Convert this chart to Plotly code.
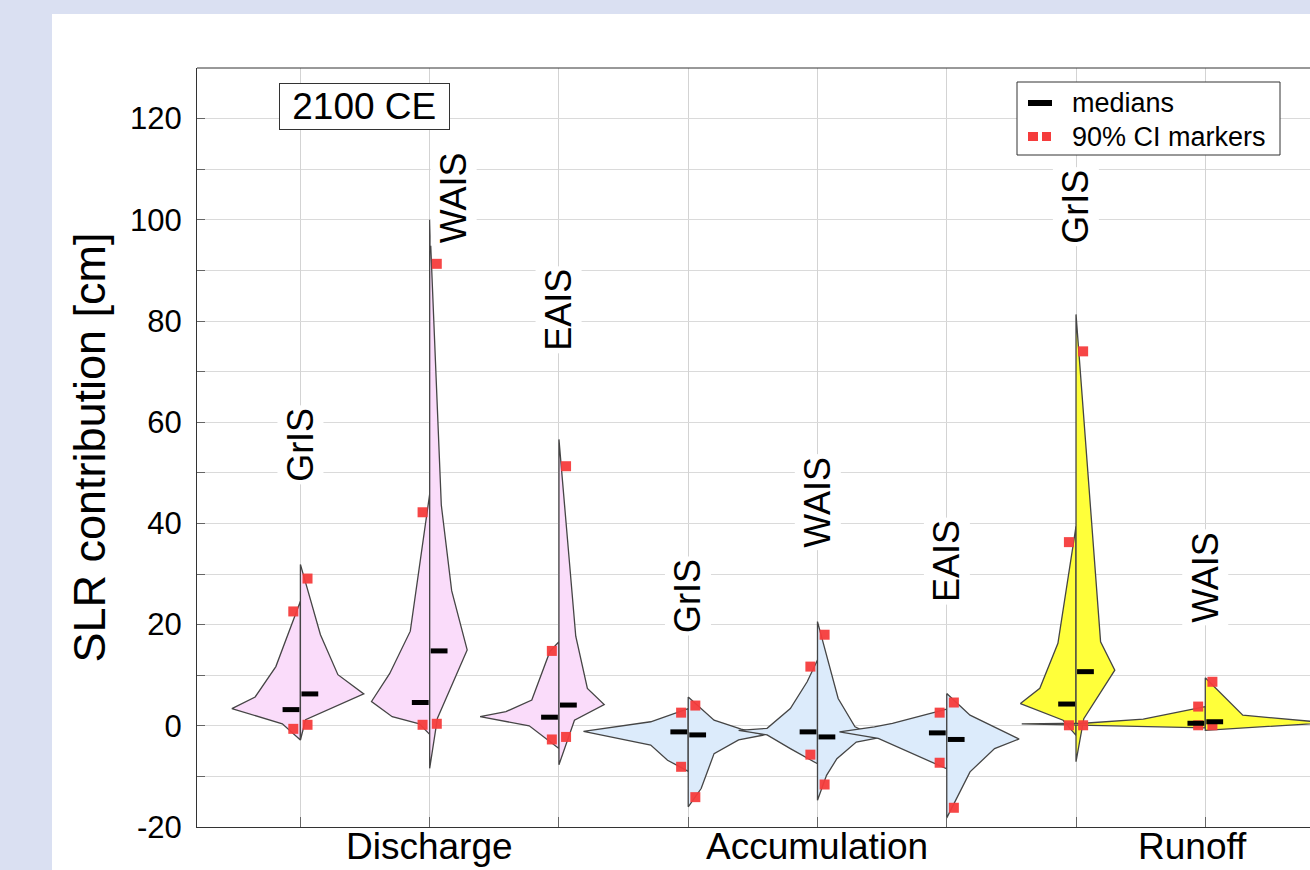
import plotly.graph_objects as go

# ---------------- data ----------------
processes = ["Discharge", "Accumulation", "Runoff"]
process_pos = [2, 5, 7.9]
sheets = ["GrIS", "WAIS", "EAIS", "GrIS", "WAIS", "EAIS", "GrIS", "WAIS"]
sheet_process = [0, 0, 0, 1, 1, 1, 2, 2]
slots = [1, 2, 3, 4, 5, 6, 7, 8]

# half-violin profiles: values [cm] (top -> bottom) and half-widths (slot units)
left_y = [
    [24.6, 11.7, 5.7, 3.4, 0.4, -2.8],
    [45.8, 18.7, 10.3, 4.8, 1.8, 0.4, -1.7],
    [16.6, 14.7, 5.1, 2.8, 1.8, 0.0, -4.5],
    [3.4, 0.8, -1.1, -3.8, -6.8, -9.0],
    [13.0, 8.7, 3.4, -0.5, -0.9, -1.8, -4.5, -7.5],
    [3.3, 0.5, -0.2, -1.2, -2.5, -8.5],
    [39.4, 16.3, 7.4, 4.4, 1.1, -1.9],
    [3.8, 1.3, 0.5, 0.4, -0.4],
]
left_w = [
    [0, 0.19, 0.35, 0.53, 0.14, 0],
    [0, 0.15, 0.31, 0.45, 0.29, 0.08, 0],
    [0, 0.07, 0.21, 0.41, 0.61, 0.23, 0],
    [0, 0.29, 0.81, 0.29, 0.16, 0],
    [0, 0.08, 0.21, 0.39, 0.61, 0.39, 0.21, 0],
    [0, 0.42, 0.56, 0.83, 0.53, 0],
    [0, 0.14, 0.28, 0.43, 0.10, 0],
    [0, 0.48, 0.94, 1.42, 0],
]
right_y = [
    [31.9, 18.0, 10.1, 6.3, 1.2, -2.8],
    [100.0, 43.6, 26.7, 15.0, 1.5, -8.4],
    [56.6, 17.7, 7.4, 4.2, 1.1, -7.7],
    [5.7, 1.1, -0.65, -1.8, -2.8, -5.5, -12.4, -16.0],
    [20.6, 5.4, -0.2, -2.4, -3.2, -6.5, -9.8, -14.7],
    [6.4, 2.1, -2.6, -4.5, -9.1, -18.2],
    [81.3, 16.6, 11.0, 1.4, -7.1],
    [9.5, 2.1, 0.9, 0.7, -0.9],
]
right_w = [
    [0, 0.155, 0.29, 0.49, 0.04, 0],
    [0, 0.09, 0.17, 0.29, 0.06, 0],
    [0, 0.13, 0.22, 0.35, 0.12, 0],
    [0, 0.20, 0.41, 0.59, 0.39, 0.20, 0.10, 0],
    [0, 0.16, 0.29, 0.47, 0.30, 0.15, 0.07, 0],
    [0, 0.18, 0.56, 0.37, 0.18, 0],
    [0, 0.19, 0.30, 0.06, 0],
    [0, 0.29, 0.81, 1.0, 0],
]

median_left = [3.2, 4.6, 1.7, -1.2, -1.2, -1.4, 4.3, 0.5]
median_right = [6.3, 14.8, 4.1, -1.8, -2.2, -2.7, 10.7, 0.8]
ci_left_low = [-0.6, 0.2, -2.7, -8.1, -5.7, -7.3, 0.1, 0.1]
ci_left_high = [22.6, 42.2, 14.8, 2.6, 11.7, 2.6, 36.3, 3.8]
ci_right_low = [0.2, 0.4, -2.2, -14.1, -11.6, -16.2, 0.1, 0.1]
ci_right_high = [29.1, 91.3, 51.3, 4.0, 18.0, 4.6, 74.0, 8.7]

label_y = [55.6, 104.4, 82.2, 25.7, 44.2, 32.5, 102.6, 29.3]

y_ticks = [-20, 0, 20, 40, 60, 80, 100, 120]
y_tick_labels = ["-20", "0", "20", "40", "60", "80", "100", "120"]

# ---------------- style ----------------
FONT = "Liberation Sans, Arial, Helvetica, sans-serif"
fills = ["#fadcfa", "#dcebfb", "#ffff3a"]
outline = "#454545"
red = "#f53c3c"
med_dx = 0.073
ci_dx = 0.055

# plot area geometry (pixels) for layout helpers
L, R, T, B = 197, 1310, 68, 827
W_px, H_px = R - L, B - T


def px_x(px):
    return (px - L) / W_px


def px_y(py):
    return (B - py) / H_px


fig = go.Figure()

for i, c in enumerate(slots):
    col = fills[sheet_process[i]]
    xs = [c - w for w in left_w[i]] + [c - left_w[i][0]]
    ys = list(left_y[i]) + [left_y[i][0]]
    fig.add_trace(go.Scatter(x=xs, y=ys, mode="lines", fill="toself",
                             fillcolor=col, line=dict(color=outline, width=1.3),
                             hoverinfo="skip", showlegend=False))
    xs = [c + w for w in right_w[i]] + [c + right_w[i][0]]
    ys = list(right_y[i]) + [right_y[i][0]]
    fig.add_trace(go.Scatter(x=xs, y=ys, mode="lines", fill="toself",
                             fillcolor=col, line=dict(color=outline, width=1.3),
                             hoverinfo="skip", showlegend=False))

# 90% CI markers
ci_x = ([c - ci_dx for c in slots] * 2) + ([c + ci_dx for c in slots] * 2)
ci_y = ci_left_low + ci_left_high + ci_right_low + ci_right_high
fig.add_trace(go.Scatter(x=ci_x, y=ci_y, mode="markers", name="90% CI markers",
                         marker=dict(symbol="square", size=10, color=red,
                                     opacity=0.95, line=dict(width=0)),
                         cliponaxis=False, showlegend=False))

# medians
med_x = [c - med_dx for c in slots] + [c + med_dx for c in slots]
med_y = median_left + median_right
fig.add_trace(go.Scatter(x=med_x, y=med_y, mode="markers", name="medians",
                         marker=dict(symbol="line-ew", size=12,
                                     line=dict(color="black", width=5)),
                         showlegend=False))

# ice-sheet labels
for i, c in enumerate(slots):
    fig.add_annotation(x=c, y=label_y[i], text=sheets[i], textangle=-90,
                       showarrow=False, bgcolor="white", borderpad=2,
                       xshift=24 if i == 1 else 0,
                       font=dict(family=FONT, size=36, color="black"))

# process (category) labels under the axis
for name, pos in zip(processes, process_pos):
    fig.add_annotation(x=pos, xref="x", yref="paper", y=px_y(846),
                       yanchor="middle", text=name, showarrow=False,
                       font=dict(family=FONT, size=37, color="black"))

# 2100 CE box
fig.add_annotation(x=1.495, y=122.4, text="&nbsp;2100 CE&nbsp;", showarrow=False,
                   bgcolor="white", bordercolor="#333", borderwidth=1,
                   borderpad=2, font=dict(family=FONT, size=37, color="black"))

# white page panel
fig.add_shape(type="rect", xref="paper", yref="paper",
              x0=px_x(52), x1=px_x(1330), y0=px_y(900), y1=px_y(14),
              fillcolor="white", line_width=0, layer="below")

# top frame line
fig.add_shape(type="line", xref="paper", yref="paper",
              x0=0, x1=1.05, y0=1, y1=1, line=dict(color="#333", width=1))

# custom legend
fig.add_shape(type="rect", xref="paper", yref="paper",
              x0=px_x(1017), x1=px_x(1280), y0=px_y(155), y1=px_y(82),
              fillcolor="white", line=dict(color="#333", width=1))
fig.add_shape(type="rect", xref="paper", yref="paper",
              x0=px_x(1028), x1=px_x(1052), y0=px_y(106), y1=px_y(100),
              fillcolor="black", line_width=0)
for a, b in [(1028, 1038), (1042, 1051)]:
    fig.add_shape(type="rect", xref="paper", yref="paper",
                  x0=px_x(a), x1=px_x(b), y0=px_y(141), y1=px_y(132),
                  fillcolor=red, line_width=0)
fig.add_annotation(xref="paper", yref="paper", x=px_x(1070), y=px_y(103),
                   xanchor="left", yanchor="middle", text="medians",
                   showarrow=False, font=dict(family=FONT, size=27, color="black"))
fig.add_annotation(xref="paper", yref="paper", x=px_x(1070), y=px_y(137),
                   xanchor="left", yanchor="middle", text="90% CI markers",
                   showarrow=False, font=dict(family=FONT, size=27, color="black"))

fig.update_layout(
    width=1310, height=870,
    margin=dict(l=L, r=0, t=T, b=870 - B, pad=0, autoexpand=False),
    paper_bgcolor="#dae0f2", plot_bgcolor="white",
    showlegend=False,
    font=dict(family=FONT, color="black"),
)
fig.update_xaxes(
    range=[0.2, 8.81], tickmode="array", tickvals=slots, showticklabels=False,
    ticks="inside", ticklen=10, tickcolor="#666",
    showgrid=True, gridcolor="#d3d3d3", gridwidth=1, zeroline=False,
    showline=True, linecolor="#333", linewidth=1, mirror=False,
    automargin=False,
)
fig.update_yaxes(
    range=[-20, 130], tickmode="array", tickvals=y_ticks, ticktext=y_tick_labels,
    ticks="inside", ticklen=8, tickcolor="#666",
    showgrid=True, gridcolor="#dadada", gridwidth=1, zeroline=False,
    showline=True, linecolor="#333", linewidth=1, mirror=False,
    tickfont=dict(family=FONT, size=31, color="black"), ticklabelstandoff=8,
    minor=dict(dtick=10, tick0=0, ticks="inside", ticklen=8, tickcolor="#666",
               showgrid=True, gridcolor="#dadada"),
    title=dict(text="SLR contribution [cm]", standoff=10,
               font=dict(family=FONT, size=45, color="black")),
    automargin=False,
)

fig.write_html(
    "out.html",
    config={"displayModeBar": False},
    post_script=(
        "document.documentElement.style.overflow='hidden';"
        "document.body.style.margin='0';document.body.style.padding='0';"
        "document.body.style.overflow='hidden';"
    ),
)
